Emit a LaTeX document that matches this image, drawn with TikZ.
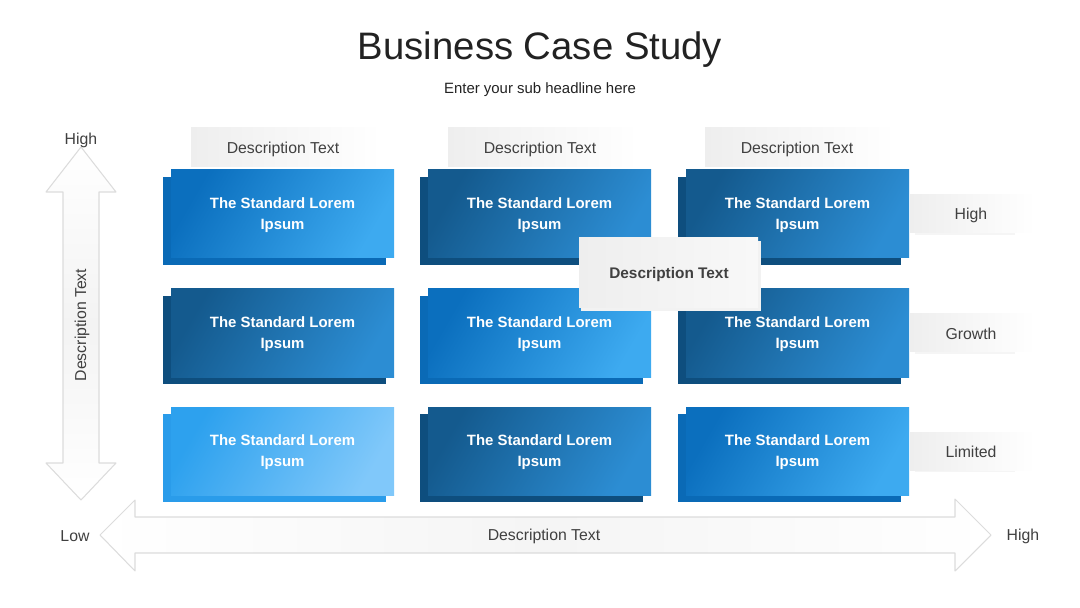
\documentclass[tikz,border=0pt]{standalone}
\usepackage{fontspec}
\setmainfont{Liberation Sans}
\usepackage{tikz}

\definecolor{titleink}{HTML}{222222}
\definecolor{labelink}{HTML}{404040}
\definecolor{paneGray}{HTML}{EEEEEE}
\definecolor{arrowEdge}{HTML}{DCDCDC}
% cell tones: M = medium, D = dark, L = light
\definecolor{cellMtop}{HTML}{0B6FBE}
\definecolor{cellMbot}{HTML}{3DAAF0}
\definecolor{cellMback}{HTML}{0A6AB6}
\definecolor{cellDtop}{HTML}{145A8E}
\definecolor{cellDbot}{HTML}{2C8DD3}
\definecolor{cellDback}{HTML}{0E4E7E}
\definecolor{cellLtop}{HTML}{2DA1EE}
\definecolor{cellLbot}{HTML}{80C8FA}
\definecolor{cellLback}{HTML}{2A9CEA}

\tikzset{
  graytext/.style={text=labelink, font=\fontsize{9}{11}\selectfont},
  celltext/.style={text=white, align=center, font=\bfseries\fontsize{8.5}{11.6}\selectfont},
}

\begin{document}
\begin{tikzpicture}[x=0.02cm, y=-0.02cm, line join=round, line cap=round]
\useasboundingbox (0,0) rectangle (1080,608);

% Title
\node[text=titleink, font=\fontsize{21.8}{26}\selectfont] (title) at (540,50) {Business Case Study};
\node[text=titleink, font=\fontsize{8.5}{10}\selectfont] (subtitle) at (540,90) {Enter your sub headline here};

% Vertical arrow
\shade[top color=white, bottom color=white, middle color=paneGray!70, draw=arrowEdge, line width=0.6pt]
  (81,147) -- (116,192) -- (99,192) -- (99,463) -- (116,463) -- (81,500)
  -- (46,463) -- (63,463) -- (63,192) -- (46,192) -- cycle;
\node[graytext] (vhigh) at (81,140) {High};
\node[graytext, rotate=90] (vdesc) at (82,325) {Description Text};

% Horizontal arrow
\shade[left color=white, right color=white, middle color=paneGray!60, draw=arrowEdge, line width=0.6pt]
  (100,535) -- (135,500) -- (135,517) -- (955,517) -- (955,499) -- (991,535)
  -- (955,571) -- (955,553) -- (135,553) -- (135,571) -- cycle;
\node[graytext] (hlow) at (75,536) {Low};
\node[graytext] (hhigh) at (1023,536) {High};
\node[graytext] (hdesc) at (544,536) {Description Text};

% Column headers
\foreach \x/\n in {191/a, 448/b, 705/c}{
  \shade[left color=paneGray, right color=white] (\x,128) rectangle ++(190,39);
  \node[graytext] (head\n) at (\x+92,149.5) {Description Text};
}

% Row labels
\foreach \y/\lbl/\n in {195/High/1, 314/Growth/2, 432/Limited/3}{
  \fill[black!4] (915,\y+38) rectangle ++(100,2);
  \shade[left color=paneGray, right color=white] (910,\y) rectangle ++(125,38);
  \node[graytext] (row\n) at (971,\y+20) {\lbl};
}

% Cells
\foreach \x/\y/\tone/\n in {171/170/M/a1, 428/170/D/b1, 686/170/D/c1,
                           171/289/D/a2, 428/289/M/b2, 686/289/D/c2,
                           171/407/L/a3, 428/407/D/b3, 686/407/M/c3}{
  \fill[cell\tone back] (\x-8,\y+7) rectangle ++(223,88);
  \shade[left color=cell\tone top, right color=cell\tone bot, shading angle=60]
    (\x,\y) rectangle ++(223,88);
  \node[celltext] (cell\n) at (\x+111.5,\y+45) {The Standard Lorem\\Ipsum};
}

% Centre label
\fill[black!5] (581,241) rectangle (761,311);
\shade[left color=paneGray, right color=paneGray!40] (579,238) rectangle (758,308);
\node[text=labelink, font=\bfseries\fontsize{8.75}{11}\selectfont] (centre) at (669,275) {Description Text};

\end{tikzpicture}
\end{document}
